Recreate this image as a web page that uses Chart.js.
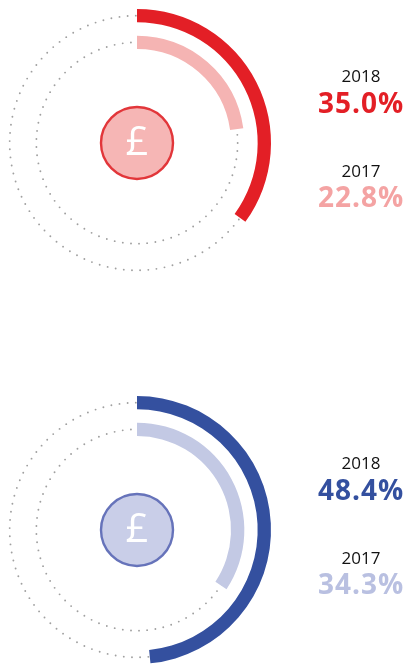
<!DOCTYPE html>
<html>
<head>
<meta charset="utf-8">
<script src="https://cdn.jsdelivr.net/npm/chart.js@4/dist/chart.umd.min.js"></script>
<style>
  html, body { margin: 0; padding: 0; background: #fff; }
  .box { width: 408px; height: 332px; position: relative; }
</style>
</head>
<body>
<div class="box"><canvas id="top" width="408" height="332"></canvas></div>
<div class="box"><canvas id="bottom" width="408" height="332"></canvas></div>
<script>
const years = ['2018', '2017'];
const topValues = [35.0, 22.8];
const bottomValues = [48.4, 34.3];

const redColors = { main: '#e31f26', light: '#f5b4b3', text2: '#f4a3a3', fill: '#f6b6b5', ring: '#e2363a' };
const blueColors = { main: '#34509f', light: '#c3c9e4', text2: '#b9c0e1', fill: '#c9cee8', ring: '#6673ba' };

const ringPlugin = {
    id: 'ringDeco',
    beforeDatasetsDraw(chart, args, opts) {
        const ctx = chart.ctx;
        const outer = chart.getDatasetMeta(0).data[0];
        const inner = chart.getDatasetMeta(2).data[0];
        const cx = outer.x, cy = outer.y;
        ctx.save();
        ctx.strokeStyle = '#a0a0a0';
        ctx.lineWidth = 1.9;
        ctx.lineCap = 'round';
        ctx.setLineDash([0, 8.2]);
        [outer, inner].forEach(function (a) {
            ctx.beginPath();
            ctx.arc(cx, cy, (a.innerRadius + a.outerRadius) / 2, 0, Math.PI * 2);
            ctx.stroke();
        });
        ctx.restore();
    },
    afterDatasetsDraw(chart, args, opts) {
        const ctx = chart.ctx;
        const outer = chart.getDatasetMeta(0).data[0];
        const cx = outer.x, cy = outer.y;
        const c = opts.colors;
        ctx.save();
        ctx.beginPath();
        ctx.arc(cx, cy, 36, 0, Math.PI * 2);
        ctx.fillStyle = c.fill;
        ctx.fill();
        ctx.lineWidth = 2.4;
        ctx.strokeStyle = c.ring;
        ctx.stroke();
        ctx.fillStyle = '#fff';
        ctx.font = '40px "Open Sans"';
        ctx.textAlign = 'center';
        ctx.textBaseline = 'middle';
        ctx.fillText('£', cx, cy + 1);

        // labels on the right
        const tx = 361;
        const vals = opts.values;
        ctx.textBaseline = 'alphabetic';
        ctx.fillStyle = '#111';
        ctx.font = '17px "Open Sans"';
        ctx.fillText(years[0], tx, cy - 61);
        ctx.fillText(years[1], tx, cy + 34);
        ctx.font = 'bold 28px "Open Sans"';
        ctx.letterSpacing = '1px';
        ctx.fillStyle = c.main;
        ctx.fillText(vals[0].toFixed(1) + '%', tx, cy - 30);
        ctx.fillStyle = c.text2;
        ctx.fillText(vals[1].toFixed(1) + '%', tx, cy + 64);
        ctx.restore();
    }
};

function makeRing(id, values, colors, pad) {
    const ctx = document.getElementById(id).getContext('2d');
    return new Chart(ctx, {
        type: 'doughnut',
        data: {
            labels: ['share', 'rest'],
            datasets: [
                { label: years[0], data: [values[0], 100 - values[0]], backgroundColor: [colors.main, 'rgba(0,0,0,0)'], borderWidth: 0 },
                { label: 'gap', data: [100], backgroundColor: ['rgba(0,0,0,0)'], borderWidth: 0 },
                { label: years[1], data: [values[1], 100 - values[1]], backgroundColor: [colors.light, 'rgba(0,0,0,0)'], borderWidth: 0 }
            ]
        },
        options: {
            responsive: false,
            animation: false,
            events: [],
            radius: 134,
            cutout: 94,
            layout: { padding: pad },
            plugins: {
                legend: { display: false },
                tooltip: { enabled: false },
                ringDeco: { colors: colors, values: values }
            }
        },
        plugins: [ringPlugin]
    });
}

makeRing('top', topValues, redColors, { left: 3, top: 9, right: 137, bottom: 55 });
makeRing('bottom', bottomValues, blueColors, { left: 3, top: 64, right: 137, bottom: 0 });
</script>
</body>
</html>
